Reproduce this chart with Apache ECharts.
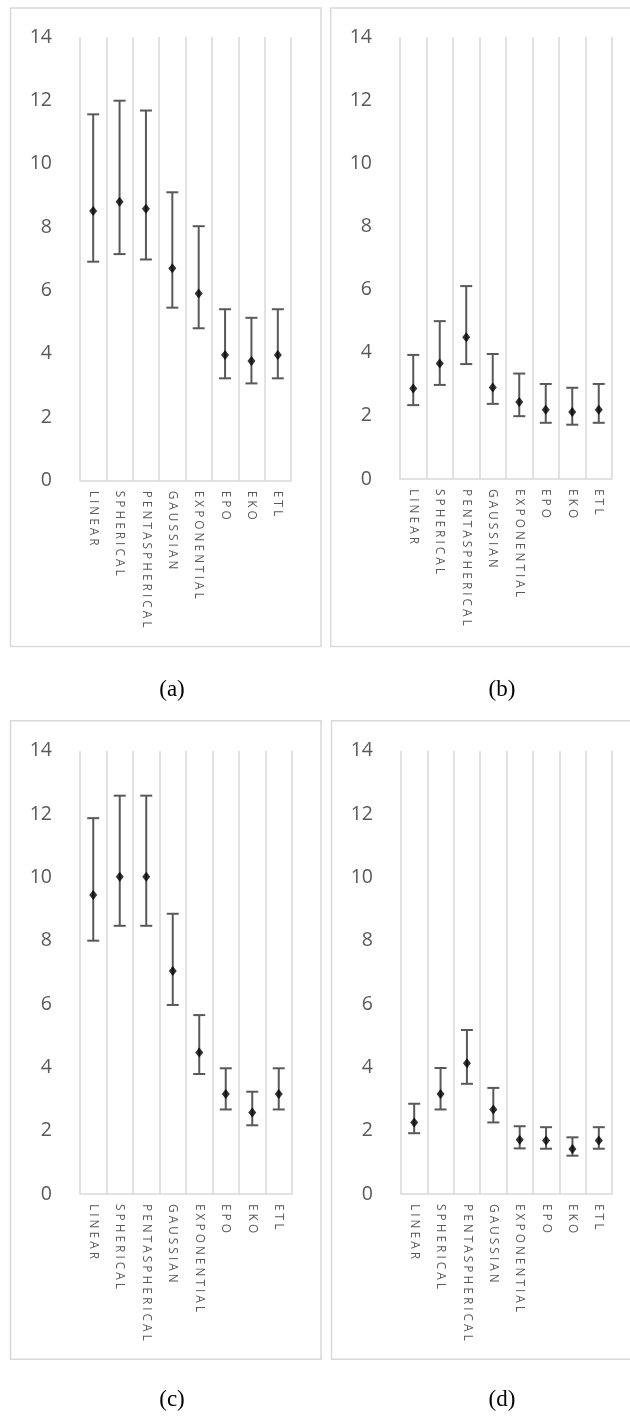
<!DOCTYPE html>
<html>
<head>
<meta charset="utf-8">
<script src="https://cdn.jsdelivr.net/npm/echarts@6/dist/echarts.min.js"></script>
<style>
  html, body { margin: 0; padding: 0; background: #fff; }
  #chart { width: 630px; height: 1420px; }
</style>
</head>
<body>
<div id="chart"></div>
<script>
// Variogram models compared in each panel
const categories = ['LINEAR', 'SPHERICAL', 'PENTASPHERICAL', 'GAUSSIAN', 'EXPONENTIAL', 'EPO', 'EKO', 'ETL'];
const yTicks = { min: 0, max: 14, step: 2 };

// Panel (a): mean with lower / upper bounds
const meanA  = [8.51, 8.80, 8.58, 6.70, 5.91, 3.97, 3.78, 3.97];
const lowA   = [6.91, 7.15, 6.98, 5.46, 4.81, 3.23, 3.07, 3.23];
const highA  = [11.56, 11.99, 11.68, 9.10, 8.03, 5.41, 5.14, 5.41];

// Panel (b)
const meanB  = [2.87, 3.66, 4.49, 2.90, 2.44, 2.19, 2.12, 2.19];
const lowB   = [2.34, 2.98, 3.64, 2.38, 1.99, 1.78, 1.72, 1.78];
const highB  = [3.93, 5.00, 6.11, 3.96, 3.34, 3.01, 2.89, 3.01];

// Panel (c)
const meanC  = [9.44, 10.02, 10.02, 7.04, 4.47, 3.16, 2.57, 3.16];
const lowC   = [8.00, 8.47, 8.47, 5.97, 3.79, 2.67, 2.17, 2.67];
const highC  = [11.87, 12.58, 12.58, 8.85, 5.65, 3.97, 3.23, 3.97];

// Panel (d)
const meanD  = [2.26, 3.16, 4.13, 2.67, 1.71, 1.69, 1.42, 1.69];
const lowD   = [1.92, 2.67, 3.48, 2.26, 1.44, 1.43, 1.21, 1.43];
const highD  = [2.85, 3.98, 5.18, 3.35, 2.14, 2.11, 1.79, 2.11];

const panelLabels = ['(a)', '(b)', '(c)', '(d)'];
const panelData = [
  { mean: meanA, low: lowA, high: highA },
  { mean: meanB, low: lowB, high: highB },
  { mean: meanC, low: lowC, high: highC },
  { mean: meanD, low: lowD, high: highD }
];

// Plot-area geometry for each panel (pixels)
const layout = [
  { left: 80,  right: 291, top: 37,  bottom: 480.7, box: [10.5, 8, 310.5, 638.5],   cap: [172, 690] },
  { left: 400, right: 612, top: 37,  bottom: 479,   box: [330.7, 8, 310, 638.5],    cap: [502, 690] },
  { left: 80,  right: 292, top: 750.7, bottom: 1194, box: [10.5, 720.7, 310.5, 638.5], cap: [172, 1400] },
  { left: 401, right: 612, top: 750.7, bottom: 1194, box: [331.5, 720.7, 310, 638.5], cap: [502, 1400] }
];

const gridColor = '#d9d9d9';
const textColor = '#595959';
const barColor = '#595959';

const grids = [], xAxes = [], yAxes = [], series = [], graphics = [];

layout.forEach((L, i) => {
  grids.push({ left: L.left, top: L.top, width: L.right - L.left, height: L.bottom - L.top, containLabel: false });
  xAxes.push({
    type: 'category', gridIndex: i, data: categories, boundaryGap: true,
    axisLine: { show: true, lineStyle: { color: gridColor, width: 1.5 } },
    axisTick: { show: false },
    splitLine: { show: true, lineStyle: { color: gridColor, width: 1.5 } },
    axisLabel: {
      rotate: -90, interval: 0, margin: 10, color: textColor,
      fontFamily: 'Open Sans', fontSize: 11.8,
      formatter: v => v.split('').join(' ')
    }
  });
  yAxes.push({
    type: 'value', gridIndex: i, min: yTicks.min, max: yTicks.max, interval: yTicks.step,
    axisLine: { show: false }, axisTick: { show: false }, splitLine: { show: false },
    axisLabel: { color: textColor, fontFamily: 'Open Sans', fontSize: 19.5, margin: 28 }
  });

  const d = panelData[i];
  // Error bars with end caps
  series.push({
    type: 'custom', xAxisIndex: i, yAxisIndex: i, z: 3,
    data: categories.map((c, k) => [k, d.low[k], d.high[k]]),
    renderItem: (params, api) => {
      const lo = api.coord([api.value(0), api.value(1)]);
      const hi = api.coord([api.value(0), api.value(2)]);
      const half = 6;
      const style = { stroke: barColor, lineWidth: 2, fill: null };
      return {
        type: 'group',
        children: [
          { type: 'line', shape: { x1: lo[0], y1: lo[1], x2: hi[0], y2: hi[1] }, style },
          { type: 'line', shape: { x1: hi[0] - half, y1: hi[1], x2: hi[0] + half, y2: hi[1] }, style },
          { type: 'line', shape: { x1: lo[0] - half, y1: lo[1], x2: lo[0] + half, y2: lo[1] }, style }
        ]
      };
    }
  });
  // Mean markers
  series.push({
    type: 'scatter', xAxisIndex: i, yAxisIndex: i, z: 5,
    symbol: 'diamond', symbolSize: [8, 10],
    itemStyle: { color: '#000' },
    data: d.mean
  });

  graphics.push({
    type: 'rect', silent: true,
    shape: { x: L.box[0], y: L.box[1], width: L.box[2], height: L.box[3] },
    style: { fill: null, stroke: gridColor, lineWidth: 1.5 }
  });
  graphics.push({
    type: 'text', silent: true, x: L.cap[0], y: L.cap[1],
    style: { text: panelLabels[i], fill: '#000', font: '23px "Liberation Serif"', align: 'center', verticalAlign: 'middle' }
  });
});

const chart = echarts.init(document.getElementById('chart'), null, { renderer: 'canvas' });
chart.setOption({
  animation: false,
  backgroundColor: '#fff',
  grid: grids,
  xAxis: xAxes,
  yAxis: yAxes,
  series: series,
  graphic: graphics
});
</script>
</body>
</html>
